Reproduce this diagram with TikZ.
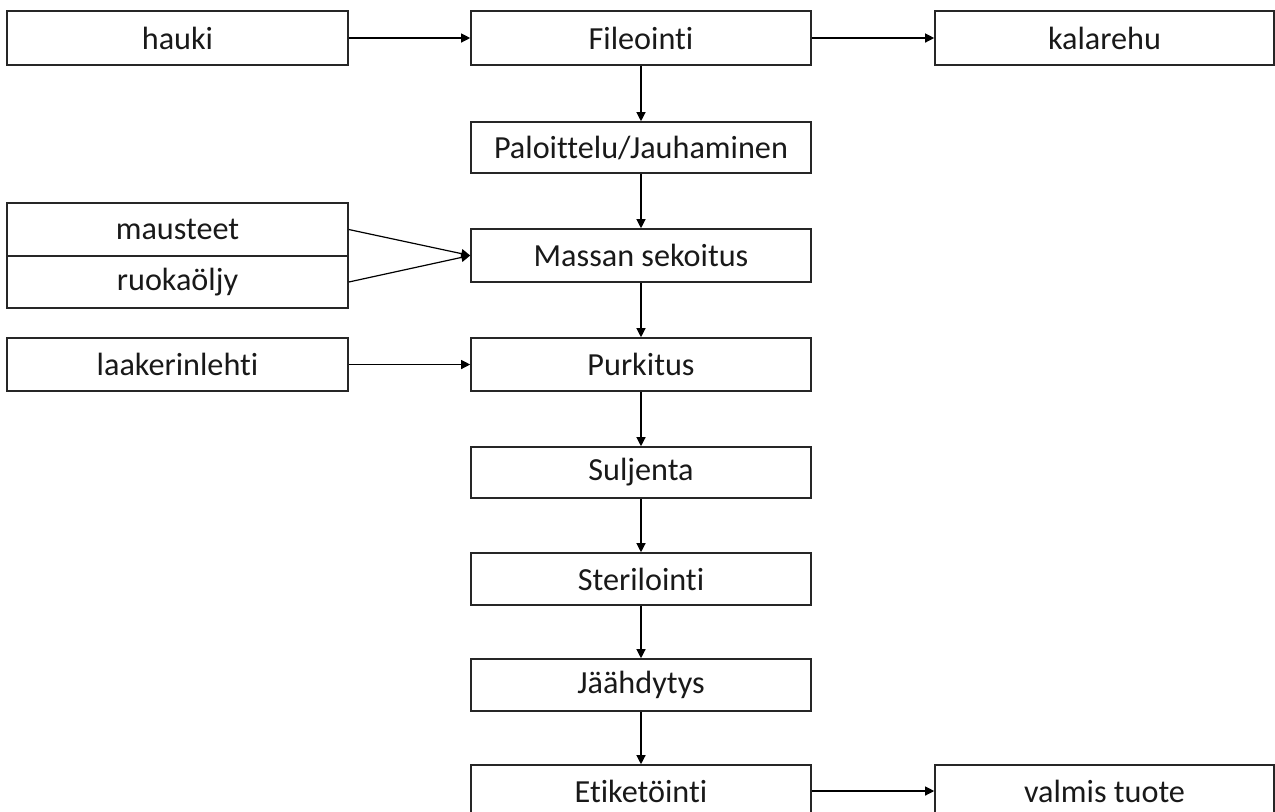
\documentclass[tikz,border=0pt]{standalone}
\usepackage{fontspec}
\setmainfont[Ligatures={NoCommon,NoRequired,NoContextual}]{Carlito}
\usetikzlibrary{arrows.meta}
\begin{document}
\begin{tikzpicture}[x=0.5pt,y=-0.5pt,
  box/.style={draw=black!85,line width=0.8pt,rectangle,inner sep=0pt,
    font=\fontsize{16.1}{19}\selectfont,text=black!90},
  flow/.style={draw=black,line width=0.6pt,-{Triangle[length=4.5pt,width=4.5pt]}}]
\useasboundingbox (0,0) rectangle (1275,811);
% left column: x 7--348 (width 170.5pt)
% middle column: x 471--811 (width 170pt)
% right column: x 935--1274 (width 169.5pt)
\node[box,minimum width=170.5pt,minimum height=27pt] (hauki) at (177.5,38) {hauki};
\node[box,minimum width=170pt,minimum height=27pt] (file) at (641,38) {Fileointi};
\node[box,minimum width=169.5pt,minimum height=27pt] (kala) at (1104.5,38) {kalarehu};
\node[box,minimum width=170pt,minimum height=25.5pt] (palo) at (641,147.5) {Paloittelu/Jauhaminen};
\node[box,minimum width=170.5pt,minimum height=26.5pt] (maus) at (177.5,229.5) {mausteet};
\node[box,minimum width=170.5pt,minimum height=26pt] (ruoka) at (177.5,282) {ruokaöljy};
\node[box,minimum width=170pt,minimum height=26.5pt] (massa) at (641,255.5) {Massan sekoitus};
\node[box,minimum width=170.5pt,minimum height=26.5pt] (laak) at (177.5,364.5) {laakerinlehti};
\node[box,minimum width=170pt,minimum height=26.5pt] (purk) at (641,364.5) {Purkitus};
\node[box,minimum width=170pt,minimum height=25.5pt] (sulj) at (641,472.5) {Suljenta};
\node[box,minimum width=170pt,minimum height=26pt] (ster) at (641,579) {Sterilointi};
\node[box,minimum width=170pt,minimum height=26pt] (jaah) at (641,685) {Jäähdytys};
\node[box,minimum width=170pt,minimum height=26pt] (etik) at (641,791) {Etiketöinti};
\node[box,minimum width=169.5pt,minimum height=26pt] (valm) at (1104.5,791) {valmis tuote};
\draw[flow] (hauki) -- (file);
\draw[flow] (file) -- (kala);
\draw[flow] (file) -- (palo);
\draw[flow] (palo) -- (massa);
\draw[flow] (maus.east) -- (massa.west);
\draw[flow] (ruoka.east) -- (massa.west);
\draw[flow] (massa) -- (purk);
\draw[flow] (laak) -- (purk);
\draw[flow] (purk) -- (sulj);
\draw[flow] (sulj) -- (ster);
\draw[flow] (ster) -- (jaah);
\draw[flow] (jaah) -- (etik);
\draw[flow] (etik) -- (valm);
\end{tikzpicture}
\end{document}
